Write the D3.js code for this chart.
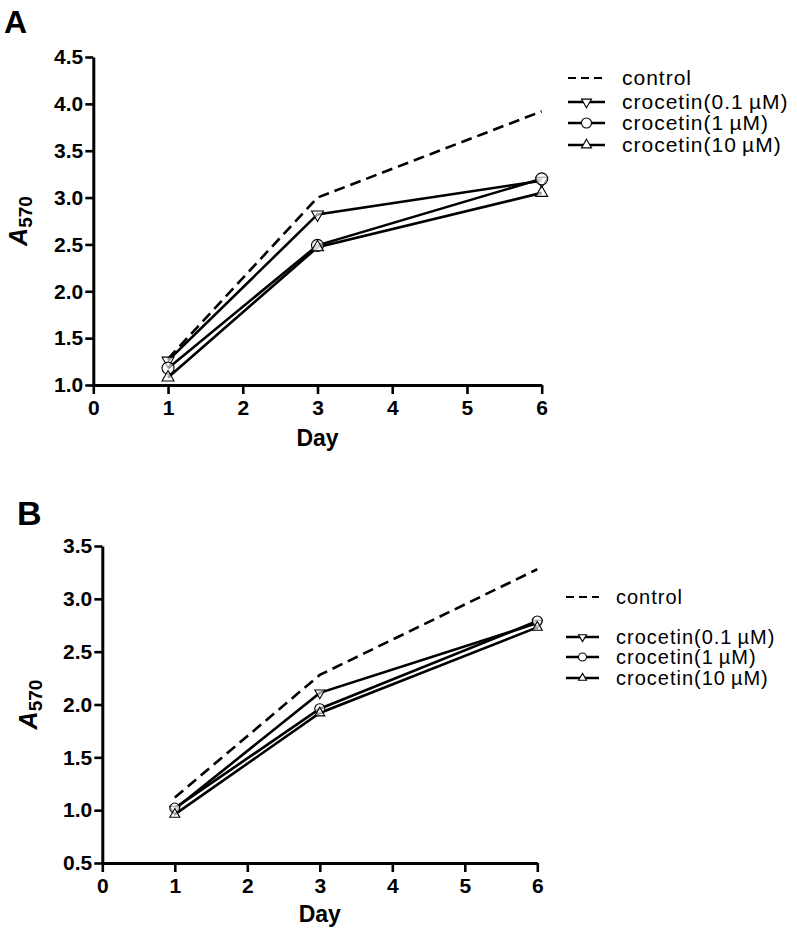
<!DOCTYPE html>
<html><head><meta charset="utf-8">
<script src="https://cdn.jsdelivr.net/npm/d3@7"></script>
<style>body{margin:0;background:#fff}svg{display:block}text{font-family:"Liberation Sans",Arial,sans-serif}</style>
</head><body>
<svg id="c" width="797" height="937"></svg>
<script>
const days = [1, 3, 6];
const seriesNames = ["control", "crocetin(0.1\u2009\u00b5M)", "crocetin(1\u2009\u00b5M)", "crocetin(10\u2009\u00b5M)"];
const seriesSymbols = ["none", "down", "circle", "up"];
const xTicks = [0, 1, 2, 3, 4, 5, 6];
// Panel A
const aControl = [1.28, 3.00, 3.92];
const aC01 = [1.26, 2.82, 3.18];
const aC1 = [1.18, 2.49, 3.20];
const aC10 = [1.08, 2.47, 3.05];
const aYTicks = [1.0, 1.5, 2.0, 2.5, 3.0, 3.5, 4.0, 4.5];
// Panel B
const bControl = [1.12, 2.28, 3.28];
const bC01 = [1.01, 2.11, 2.77];
const bC1 = [1.02, 1.96, 2.79];
const bC10 = [0.96, 1.92, 2.73];
const bYTicks = [0.5, 1.0, 1.5, 2.0, 2.5, 3.0, 3.5];

const svg = d3.select("#c");

function symbolPath(type, s) {
  if (type === "circle") return d3.symbol(d3.symbolCircle, s * s * Math.PI / 4)();
  const h = s * 0.87, w = s / 2;
  if (type === "up") return `M0,${-h*2/3}L${w},${h/3}L${-w},${h/3}Z`;
  if (type === "down") return `M0,${h*2/3}L${w},${-h/3}L${-w},${-h/3}Z`;
  return null;
}

function panel(cfg) {
  const g = svg.append("g");
  const x = d3.scaleLinear().domain([0, 6]).range([cfg.x0, cfg.x1]);
  const y = d3.scaleLinear().domain(cfg.ydom).range([cfg.yb, cfg.yt]);
  const series = cfg.series;

  const line = d3.line().x((d, i) => x(days[i])).y(d => y(d));
  series.forEach((vals, k) => {
    g.append("path").attr("d", line(vals)).attr("fill", "none")
      .attr("stroke", "#000").attr("stroke-width", 2.6)
      .attr("stroke-dasharray", k === 0 ? "11,6" : null);
  });
  series.forEach((vals, k) => {
    if (seriesSymbols[k] === "none") return;
    vals.forEach((v, i) => {
      g.append("path").attr("d", symbolPath(seriesSymbols[k], cfg.msize))
        .attr("transform", `translate(${x(days[i])},${y(v)})`)
        .attr("fill", "#fff").attr("fill-opacity", 0.6).attr("stroke", "#000").attr("stroke-width", 1.1);
    });
  });

  const xa = g.append("g").attr("transform", `translate(0,${cfg.yb})`)
    .call(d3.axisBottom(x).tickValues(xTicks).tickFormat(d3.format("d")).tickSize(9).tickPadding(6).tickSizeOuter(0));
  const ya = g.append("g").attr("transform", `translate(${cfg.x0},0)`)
    .call(d3.axisLeft(y).tickValues(cfg.yticks).tickFormat(d3.format(".1f")).tickSize(8).tickPadding(2).tickSizeOuter(0));
  [xa, ya].forEach(a => {
    a.select(".domain").attr("stroke", "#000").attr("stroke-width", 3);
    a.selectAll(".tick line").attr("stroke", "#000").attr("stroke-width", 2.6);
    a.selectAll(".tick text").attr("fill", "#000").style("font-size", "21px").style("font-weight", "bold")
      .style("font-family", '"Liberation Sans",Arial,sans-serif');
  });

  g.append("text").attr("x", (cfg.x0 + cfg.x1) / 2).attr("y", cfg.dayY).attr("text-anchor", "middle")
    .style("font-size", "23px").style("font-weight", "bold").text("Day");
  const yt = g.append("text").attr("transform", `translate(${cfg.ylabX},${(cfg.yt + cfg.yb) / 2}) rotate(-90)`)
    .attr("text-anchor", "middle").style("font-weight", "bold").style("font-style", "italic").style("font-size", "25px");
  yt.append("tspan").text("A");
  yt.append("tspan").attr("dy", 5).style("font-size", "19px").style("font-style", "normal").text("570");

  g.append("text").attr("x", cfg.letterX).attr("y", cfg.letterY).style("font-size", cfg.letterSize + "px")
    .style("font-weight", "bold").text(cfg.letter);

  const lg = g.append("g");
  seriesNames.forEach((name, k) => {
    const ly = cfg.legRows[k];
    lg.append("line").attr("x1", cfg.legX0).attr("x2", cfg.legX1).attr("y1", ly).attr("y2", ly)
      .attr("stroke", "#000").attr("stroke-width", k === 0 ? 2.2 : 2.6)
      .attr("stroke-dasharray", k === 0 ? "8,5" : null);
    if (seriesSymbols[k] !== "none") {
      lg.append("path").attr("d", symbolPath(seriesSymbols[k], cfg.legMsize))
        .attr("transform", `translate(${(cfg.legX0 + cfg.legX1) / 2},${ly})`)
        .attr("fill", "#fff").attr("stroke", "#000").attr("stroke-width", 1.1);
    }
    lg.append("text").attr("x", cfg.legTX).attr("y", ly + 7).style("font-size", cfg.legFont + "px")
      .style("letter-spacing", cfg.legLS + "px").text(name);
  });
}

panel({
  x0: 93.3, x1: 541.7, yb: 385, yt: 57, ydom: [1.0, 4.5], yticks: aYTicks,
  series: [aControl, aC01, aC1, aC10], msize: 12,
  dayY: 446, ylabX: 27, letter: "A", letterX: 4, letterY: 33, letterSize: 32,
  legRows: [78, 102, 123, 145], legX0: 568, legX1: 605, legTX: 622, legFont: 21, legLS: 1.0, legMsize: 10
});
panel({
  x0: 102.3, x1: 537.3, yb: 863, yt: 546, ydom: [0.5, 3.5], yticks: bYTicks,
  series: [bControl, bC01, bC1, bC10], msize: 10,
  dayY: 922, ylabX: 37, letter: "B", letterX: 17, letterY: 525, letterSize: 34,
  legRows: [597, 637, 657, 678], legX0: 566, legX1: 599, legTX: 616, legFont: 20, legLS: 1.0, legMsize: 8
});
</script>
</body></html>
